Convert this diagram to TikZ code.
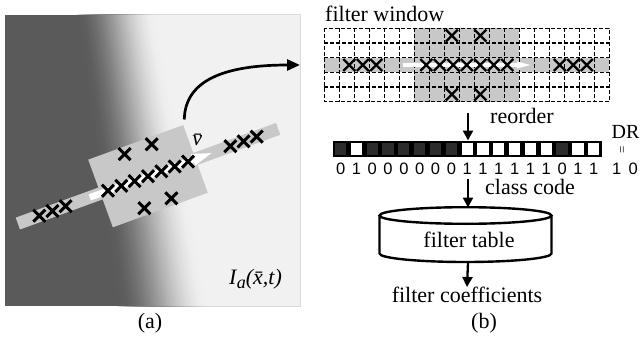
\documentclass[tikz,border=0pt]{standalone}
\usepackage{fontspec}
\setmainfont{Liberation Serif}
\newfontfamily\digitfont{Liberation Sans}
\usetikzlibrary{arrows.meta}
\definecolor{darkg}{RGB}{90,90,90}
\definecolor{lightg}{RGB}{241,241,241}
\definecolor{blockgray}{RGB}{200,200,200}
\definecolor{cellgray}{RGB}{44,44,44}
\begin{document}
\begin{tikzpicture}[x=1pt,y=-1pt,
  txt/.style={font=\fontsize{22}{26}\selectfont, inner sep=0pt},
  digit/.style={font=\digitfont\fontsize{16.5}{18}\selectfont, inner sep=0pt, anchor=base},
  flow/.style={line width=2.3pt, -{Triangle[length=10pt,width=10pt]}},
  gridline/.style={line width=1.3pt, dash pattern=on 4pt off 2pt},
  crossa/.pic={\draw[line width=3pt] (-6,-6) -- (6,6) (-6,6) -- (6,-6);},
  crossb/.pic={\draw[line width=2.3pt] (-6,-6) -- (6,6) (-6,6) -- (6,-6);},
]
\useasboundingbox (0,0) rectangle (643,345);

% ---------- panel (a): image ----------
\fill[darkg] (5,15) rectangle (300,306);
\foreach \i in {0,...,39}{
  \pgfmathsetmacro\ta{\i/40}
  \pgfmathsetmacro\tm{(\i+0.5)/40}
  \pgfmathsetmacro\s{100*\tm*\tm*(3-2*\tm)}
  \fill[lightg!\s!darkg] (76+80*\ta,15) -- (300,15) -- (300,306) -- (117+92*\ta,306) -- cycle;
}

\begin{scope}[shift={(148,176.2)}, rotate=20]
  \fill[blockgray] (-138.5,-6.3) rectangle (138.5,6.3);
  \fill[blockgray] (-50.5,-36) rectangle (50.5,36);
  \fill[white] (-62,-3.3) rectangle (50,3.3);
  \fill[white] (48,-6.2) -- (67.6,0) -- (48,6.2) -- cycle;
  \foreach \u/\v in {-14.4/-28.8, 14.4/-28.8, -14.4/28.8, 14.4/28.8,
                     -42.6/0, -28.4/0, -14.2/0, 0/0, 14.2/0, 28.4/0, 42.6/0,
                     -115.7/0, -101.7/0, -87.7/0, 87.7/0, 101.7/0, 115.7/0}
    \pic at (\u,\v) {crossa};
\end{scope}

\node[txt, anchor=base] (vbar) at (200,146) {\textit{\=v}};
\node[txt, anchor=base west] (ia) at (229,284)
  {\textit{I\kern0.3pt\raisebox{-0.22em}{\fontsize{18}{18}\selectfont a}(\=x,t)}};

\coordinate (curvestart) at (184.3,119.5);
\coordinate (curveend) at (300,65);
\draw[line width=2.7pt, -{Triangle[length=13pt,width=11pt]}]
  (curvestart) .. controls (185,80) and (225,65) .. (curveend);

\node[txt, anchor=base] (capa) at (150,328) {(a)};

% ---------- panel (b) ----------
\node[txt, anchor=base west] (fwlabel) at (325,21.5) {filter window};

\begin{scope}[shift={(466.8,65)}]
  \fill[blockgray] (-52.5,-36.75) rectangle (52.5,36.75);
  \fill[blockgray] (-142.5,-6.7) rectangle (142.5,6.7);
  \foreach \k in {1,...,18} \draw[gridline] (-142.5+15*\k,-36.75) -- ++(0,73.5);
  \foreach \k in {1,...,4} \draw[gridline] (-142.5,-36.75+14.7*\k) -- ++(285,0);
  \draw[gridline] (-142.5,-36.75) rectangle (142.5,36.75);
  \fill[white] (-64,-1.8) rectangle (52,1.8);
  \fill[white] (50,-3.6) -- (63.5,0) -- (50,3.6) -- cycle;
  \foreach \u/\v in {-15/-29.4, 13.5/-29.4, -15/29.4, 13.5/29.4,
                     -40.5/0, -27/0, -13.5/0, 0/0, 13.5/0, 27/0, 40.5/0,
                     -117.5/0, -104/0, -90.5/0, 93/0, 106.5/0, 120/0}
    \pic at (\u,\v) {crossb};
\end{scope}
\node[inner sep=0pt, minimum width=285pt, minimum height=73.5pt] (window) at (466.8,65) {};

% code bar
\node[fill=black, inner sep=0pt, minimum width=269pt, minimum height=16.6pt] (bar) at (467.2,149) {};
\foreach \b/\col [count=\k from 0] in {0/cellgray,1/white,0/cellgray,0/cellgray,0/cellgray,0/cellgray,0/cellgray,0/cellgray,
    1/white,1/white,1/white,1/white,1/white,1/white,0/cellgray,1/white,1/white} {
  \pgfmathsetmacro\cx{332.7+15.82*(\k+0.5)}
  \fill[\col] (\cx-5.6,143.1) rectangle (\cx+5.6,154.6);
  \node[digit] (d\k) at (\cx,174.3) {\b};
}
\node[digit] (dr1) at (616.7,174.3) {1};
\node[digit] (dr0) at (633.3,174.3) {0};
\node[font=\fontsize{20}{22}\selectfont, inner sep=0pt, anchor=base] (dr) at (625.5,138) {DR};
\node[font=\fontsize{13}{13}\selectfont, inner sep=0pt] (eq) at (623.5,149.5) {\rotatebox{90}{=}};

\coordinate (reorderstart) at (468,113);
\draw[flow] (reorderstart) -- (reorderstart |- bar.north);
\node[txt, anchor=base west] (reorder) at (490,124) {reorder};

\coordinate (codestart) at (468,179);
\coordinate (cyltop) at (468,207.5);
\draw[flow] (codestart) -- (cyltop);
\node[txt, anchor=base west] (classcode) at (485,194) {class code};

% filter table cylinder
\draw[line width=2.4pt] (379.5,215.5) -- (379.5,253.5)
   arc[start angle=180, end angle=360, x radius=86pt, y radius=8.5pt] -- (551.5,215.5);
\draw[line width=2.4pt] (465.5,215.5) ellipse[x radius=86pt, y radius=8.3pt];
\node[txt, anchor=base] (table) at (469,247.3) {filter table};

\coordinate (cylbot) at (468,262.5);
\node[txt, anchor=base] (coef) at (467,302.7) {filter coefficients};
\draw[flow] (cylbot) -- (coef.north);

\node[txt, anchor=base] (capb) at (484,328) {(b)};
\end{tikzpicture}
\end{document}
